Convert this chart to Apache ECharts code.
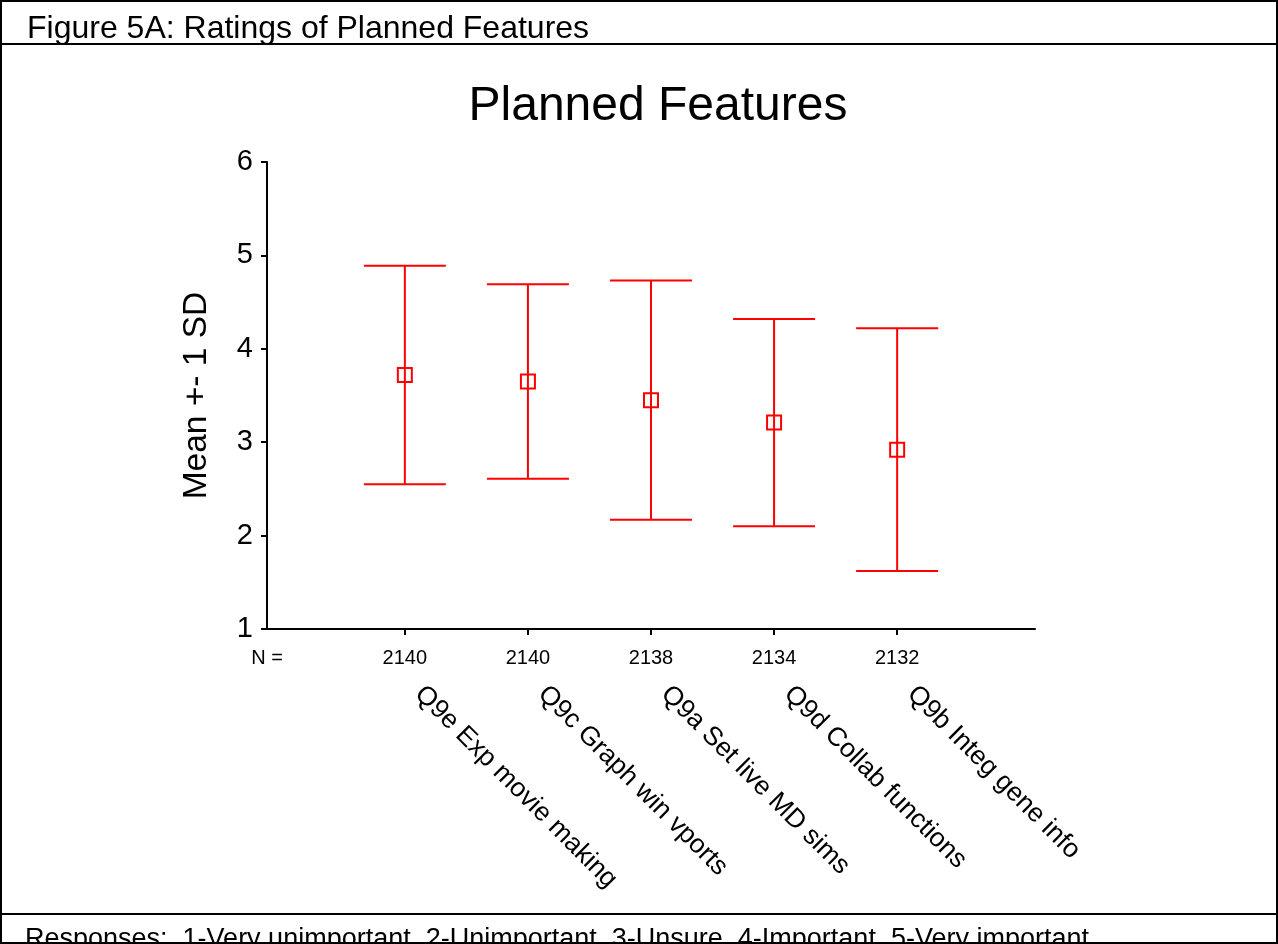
<!DOCTYPE html>
<html>
<head>
<meta charset="utf-8">
<title>Figure 5A: Ratings of Planned Features</title>
<script src="https://cdn.jsdelivr.net/npm/echarts@6/dist/echarts.min.js"></script>
<style>
  html, body { margin: 0; padding: 0; background: #fff; }
  #chart { width: 1278px; height: 944px; }
</style>
</head>
<body>
<div id="chart"></div>
<script>
// Survey items, sample sizes and rating statistics (mean and one standard deviation)
const categories = [
  'Q9e Exp movie making',
  'Q9c Graph win vports',
  'Q9a Set live MD sims',
  'Q9d Collab functions',
  'Q9b Integ gene info'
];
const nValues = [2140, 2140, 2138, 2134, 2132];
const means = [3.72, 3.65, 3.45, 3.21, 2.92];
const sds = [1.17, 1.04, 1.28, 1.11, 1.30];
const yTicks = [1, 2, 3, 4, 5, 6];

const FONT = '"Liberation Sans", Arial, sans-serif';
const RED = '#ff0000';

// each item sits at x = 1..5 on a numeric axis
const positions = categories.map((_, i) => i + 1);
const X_MIN = -0.12;
const X_MAX = 6.12;

const errorData = positions.map((x, i) => [x, means[i], sds[i]]);

const chart = echarts.init(document.getElementById('chart'), null, { renderer: 'canvas' });

const option = {
  backgroundColor: '#fff',
  animation: false,
  title: [
    {
      text: 'Figure 5A: Ratings of Planned Features',
      left: 22, top: 8,
      textStyle: { fontFamily: FONT, fontSize: 32, fontWeight: 'normal', color: '#000' }
    },
    {
      text: 'Planned Features',
      left: 653, top: 78, textAlign: 'center',
      textStyle: { fontFamily: FONT, fontSize: 48, fontWeight: 'normal', color: '#000' }
    },
    {
      text: 'Responses:  1-Very unimportant, 2-Unimportant, 3-Unsure, 4-Important, 5-Very important.',
      left: 20, top: 921,
      textStyle: { fontFamily: FONT, fontSize: 27, fontWeight: 'normal', color: '#000' }
    }
  ],
  graphic: [
    { type: 'rect', shape: { x: 1, y: 1, width: 1276, height: 942 },
      style: { fill: 'none', stroke: '#000', lineWidth: 2 }, z: 100 },
    { type: 'line', shape: { x1: 0, y1: 44, x2: 1278, y2: 44 },
      style: { stroke: '#000', lineWidth: 2 }, z: 100 },
    { type: 'line', shape: { x1: 0, y1: 914, x2: 1278, y2: 914 },
      style: { stroke: '#000', lineWidth: 2 }, z: 100 }
  ],
  grid: { left: 267, right: 243, top: 162, bottom: 315, containLabel: false },
  xAxis: [
    {
      // sample sizes under each item, with the "N =" caption at the axis start
      type: 'value', position: 'bottom', min: X_MIN, max: X_MAX,
      splitLine: { show: false },
      axisLine: { show: true, onZero: false, lineStyle: { color: '#000', width: 2 } },
      axisTick: { show: true, customValues: positions, length: 6, inside: false,
        lineStyle: { color: '#000', width: 2 } },
      axisLabel: {
        customValues: [X_MIN].concat(positions),
        margin: 19,
        fontFamily: FONT, fontSize: 20, color: '#000',
        formatter: (v) => {
          const i = positions.indexOf(Math.round(v * 100) / 100);
          return i >= 0 ? String(nValues[i]) : 'N =';
        }
      }
    },
    {
      // slanted item names
      type: 'value', position: 'bottom', min: X_MIN, max: X_MAX,
      splitLine: { show: false },
      axisLine: { show: false, onZero: false },
      axisTick: { show: false },
      axisLabel: {
        customValues: positions,
        rotate: -45,
        margin: 47,
        padding: [0, 0, 0, 20],
        fontFamily: FONT, fontSize: 26.5, color: '#000',
        formatter: (v) => categories[Math.round(v) - 1] || ''
      }
    }
  ],
  yAxis: {
    type: 'value', min: yTicks[0], max: yTicks[yTicks.length - 1], interval: 1,
    name: 'Mean +- 1 SD', nameLocation: 'middle', nameRotate: 90, nameGap: 53,
    nameMoveOverlap: false,
    nameTextStyle: { fontFamily: FONT, fontSize: 33.5, color: '#000' },
    splitLine: { show: false },
    axisLine: { show: true, onZero: false, lineStyle: { color: '#000', width: 2 } },
    axisTick: { show: true, length: 6, inside: false, lineStyle: { color: '#000', width: 2 } },
    axisLabel: { margin: 14, fontFamily: FONT, fontSize: 29, color: '#000' }
  },
  series: [
    {
      type: 'custom',
      xAxisIndex: 0,
      clip: false,
      data: errorData,
      renderItem: (params, api) => {
        const x = api.value(0);
        const m = api.value(1);
        const s = api.value(2);
        const hi = api.coord([x, m + s]);
        const lo = api.coord([x, m - s]);
        const mid = api.coord([x, m]);
        const capHalf = 41;
        const box = 14;
        const stroke = { stroke: RED, lineWidth: 2, fill: 'none' };
        return {
          type: 'group',
          children: [
            { type: 'line', shape: { x1: hi[0], y1: hi[1], x2: lo[0], y2: lo[1] }, style: stroke },
            { type: 'line', shape: { x1: hi[0] - capHalf, y1: hi[1], x2: hi[0] + capHalf, y2: hi[1] }, style: stroke },
            { type: 'line', shape: { x1: lo[0] - capHalf, y1: lo[1], x2: lo[0] + capHalf, y2: lo[1] }, style: stroke },
            { type: 'rect', shape: { x: mid[0] - box / 2, y: mid[1] - box / 2, width: box, height: box }, style: stroke }
          ]
        };
      }
    }
  ]
};

chart.setOption(option);
</script>
</body>
</html>
